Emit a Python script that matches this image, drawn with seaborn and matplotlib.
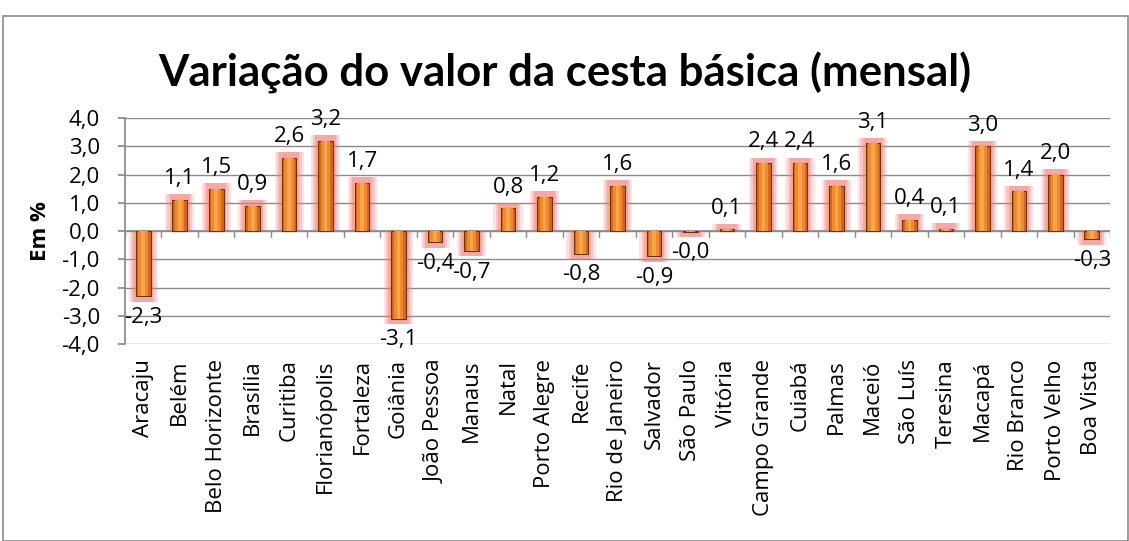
import numpy as np
import pandas as pd
import matplotlib
matplotlib.use("Agg")
import matplotlib.pyplot as plt
import seaborn as sns
from matplotlib.patches import Rectangle

# ── Data ───────────────────────────────────────────────────────────────────────
cities = ["Aracaju", "Belém", "Belo Horizonte", "Brasília", "Curitiba",
          "Florianópolis", "Fortaleza", "Goiânia", "João Pessoa", "Manaus",
          "Natal", "Porto Alegre", "Recife", "Rio de Janeiro", "Salvador",
          "São Paulo", "Vitória", "Campo Grande", "Cuiabá", "Palmas",
          "Maceió", "São Luís", "Teresina", "Macapá", "Rio Branco",
          "Porto Velho", "Boa Vista"]
variation = [-2.3, 1.1, 1.5, 0.9, 2.6,
             3.2, 1.7, -3.1, -0.4, -0.7,
             0.8, 1.2, -0.8, 1.6, -0.9,
             -0.02, 0.06, 2.4, 2.4, 1.6,
             3.1, 0.4, 0.07, 3.0, 1.4,
             2.0, -0.3]
yticks = np.arange(-4, 5, 1)

df = pd.DataFrame({"city": cities, "var": variation})
# glow slightly longer than the bar itself
df["glow"] = df["var"] + np.sign(df["var"]) * 0.2

sns.set_theme(style="white")
plt.rcParams.update({
    "font.family": ["Open Sans", "DejaVu Sans"],
    "text.color": "black",
    "axes.labelcolor": "black",
    "xtick.color": "black",
    "ytick.color": "black",
})

fig = plt.figure(figsize=(11.29, 5.41), dpi=100, facecolor="white")
ax = fig.add_axes([125 / 1129, 1 - 344 / 541, 985 / 1129, 226 / 541])

# outer frame
fig.patches.append(Rectangle((3 / 1129, 0), 1 - 4 / 1129, 1 - 16 / 541,
                             transform=fig.transFigure, fill=False,
                             edgecolor="#8c8c8c", linewidth=1.2))

# gridlines
for t in yticks:
    ax.axhline(t, color="#8a8a8a", linewidth=1.0, zorder=0)

# glow layers
for w, a in [(0.80, 0.20), (0.68, 0.28), (0.56, 0.38)]:
    sns.barplot(data=df, x="city", y="glow", ax=ax, color="#f07a7a",
                width=w, alpha=a, linewidth=0, saturation=1, zorder=1)

# main bars
sns.barplot(data=df, x="city", y="var", ax=ax, color="#d9690f",
            width=0.40, edgecolor="#6e3306", linewidth=0.8, saturation=1, zorder=3)
# lighter centre for a gradient look
sns.barplot(data=df, x="city", y="var", ax=ax, color="#f08a2c",
            width=0.26, linewidth=0, saturation=1, zorder=4)
sns.barplot(data=df, x="city", y="var", ax=ax, color="#f7a650",
            width=0.10, linewidth=0, saturation=1, zorder=5)

# data labels
for i, v in enumerate(variation):
    txt = f"{v:.1f}".replace(".", ",")
    if v >= 0:
        ax.text(i, v + 0.38, txt, ha="center", va="bottom", fontsize=16, color="black")
    else:
        ax.text(i, v - 0.38, txt, ha="center", va="top", fontsize=16, color="black")

ax.set_ylim(-4, 4)
ax.set_xlim(-0.5, len(cities) - 0.5)
ax.set_yticks(yticks)
ax.set_yticklabels([f"{t:.1f}".replace(".", ",") for t in yticks], fontsize=16)
ax.set_xticks(range(len(cities)))
ax.set_xticklabels(cities, rotation=90, fontsize=16)
ax.tick_params(axis="x", length=0, pad=11)
ax.tick_params(axis="y", length=5, color="#8a8a8a", direction="out", left=True, pad=13)
ax.set_xlabel("")
ax.set_ylabel("Em %", fontsize=16, fontweight="bold", labelpad=8)

for s in ["top", "right", "bottom"]:
    ax.spines[s].set_visible(False)
ax.spines["left"].set_color("#8a8a8a")

# zero axis with tick marks between categories
ax.axhline(0, color="#8a8a8a", linewidth=1.2, zorder=2)
for i in range(len(cities) + 1):
    ax.plot([i - 0.5, i - 0.5], [0, -0.2], color="#8a8a8a", linewidth=1.0, zorder=2)

fig.text(0.5, 1 - 73 / 541, "Variação do valor da cesta básica (mensal)",
         ha="center", va="center", fontsize=31.5, fontweight="bold",
         color="black", family=["Lato", "DejaVu Sans"])

fig.savefig("out.png", dpi=100, facecolor="white")
